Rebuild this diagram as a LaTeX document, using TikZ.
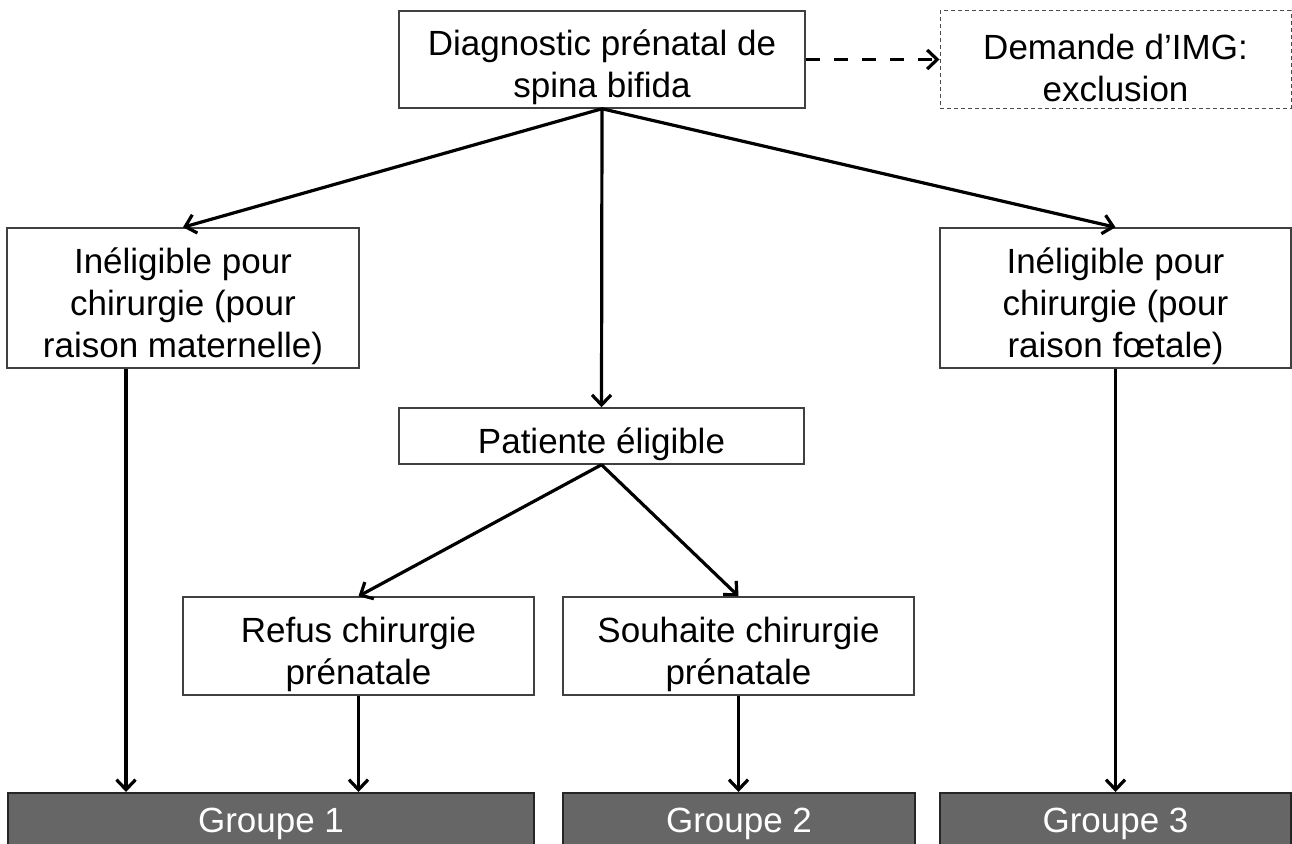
\documentclass[tikz,border=0pt]{standalone}
\usepackage{fontspec}
\setmainfont{Liberation Sans}
\usetikzlibrary{arrows.meta}
\newcommand{\boxstrut}{\rule{0pt}{42pt}}

\begin{document}
\begin{tikzpicture}
         [x=1pt,y=-1pt,
          every node/.style={rectangle,draw=black!75,line width=1.5pt,align=center,
            inner sep=0pt,font=\fontsize{35}{42}\selectfont},
          box/.style={minimum width=#1},
          groupbox/.style={fill=black!60,draw=black!85,text=white,minimum height=62pt,
            minimum width=#1},
          arr/.style={line width=3.2pt,-{Straight Barb[length=10pt,width=19pt]}}]
         \useasboundingbox (0,0) rectangle (1292,843);
         \clip (0,0) rectangle (1292,843);
         \node[box=406,minimum height=97] (diag) at (602,59.5)  {\boxstrut Diagnostic prénatal de\\spina bifida};
         \node[box=351,minimum height=97,dashed,draw=black!70,line width=1pt,
               dash pattern=on 4pt off 3pt] (img) at (1115.5,59.5)  {\boxstrut Demande d’IMG:\\exclusion};
         \node[box=352,minimum height=140] (inelm) at (183,298)  {\boxstrut Inéligible pour\\chirurgie (pour\\raison maternelle)};
         \node[box=351,minimum height=140] (inelf) at (1115.5,298)  {\boxstrut Inéligible pour\\chirurgie (pour\\raison fœtale)};
         \node[box=405,minimum height=56] (pat) at (601.5,436)  {\boxstrut Patiente éligible};
         \node[box=351,minimum height=98] (refus) at (358.5,646)  {\boxstrut Refus chirurgie\\prénatale};
         \node[box=351,minimum height=98] (souh) at (738.5,646)  {\boxstrut Souhaite chirurgie\\prénatale};
         \node[groupbox=526,anchor=north] (g1) at (271,792)  {Groupe 1};
         \node[groupbox=352,anchor=north] (g2) at (739,792)  {Groupe 2};
         \node[groupbox=351,anchor=north] (g3) at (1115.5,792)  {Groupe 3};
         \foreach \from/\to in {diag/inelm, diag/pat, diag/inelf, pat/refus, pat/souh}
            \draw[arr] (\from.south) -- (\to.north);
         \foreach \from/\to in {refus/g1, souh/g2, inelf/g3}
            \draw[arr] (\from.south) -- (\from.south |- \to.north);
         \draw[arr] ([xshift=-57pt]inelm.south) -- ([xshift=-57pt]inelm.south |- g1.north);
         \draw[arr,dash pattern=on 14pt off 14pt] (diag.east) -- (img.west);
       \end{tikzpicture}
\end{document}
